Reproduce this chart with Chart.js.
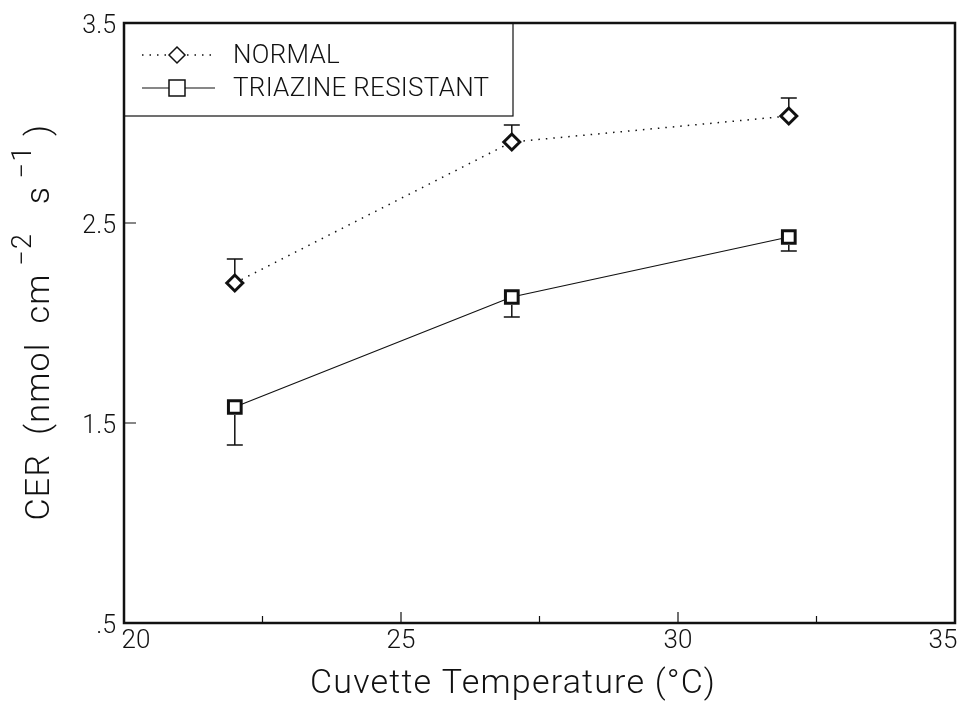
<!DOCTYPE html>
<html>
<head>
<meta charset="utf-8">
<script src="https://cdn.jsdelivr.net/npm/chart.js@4.4.0/dist/chart.umd.min.js"></script>
<style>
  html, body { margin: 0; padding: 0; background: #fff; }
  #wrap { width: 969px; height: 715px; }
</style>
</head>
<body>
<div id="wrap"><canvas id="grafico" width="969" height="715"></canvas></div>
<script>
// Dados
const temperaturas = [22, 27, 32];
const cerNormal = [2.20, 2.905, 3.035];
const erroNormal = [0.12, 0.085, 0.09];        // só barra de cima
const cerResistente = [1.58, 2.13, 2.43];
const erroResistente = [0.19, 0.10, 0.07];     // só barra de baixo
const ticksX = [20, 25, 30, 35];
const ticksXMenores = [22.5, 27.5, 32.5];
const ticksY = [0.5, 1.5, 2.5, 3.5];
const rotulosY = ['.5', '1.5', '2.5', '3.5'];
const nomesSeries = ['NORMAL', 'TRIAZINE RESISTANT'];

const FONTE = "'Roboto', 'Liberation Sans', sans-serif";
const PRETO = '#111';

// Moldura, ticks internos, barras de erro, legenda e títulos
const pluginDesenho = {
    id: 'desenho',
    afterDatasetsDraw(chart) {
        const ctx = chart.ctx;
        const area = chart.chartArea;
        const sx = chart.scales.x;
        const sy = chart.scales.y;
        ctx.save();

        // barras de erro
        ctx.strokeStyle = PRETO;
        ctx.lineWidth = 1.5;
        const barra = (x, y0, y1) => {
            const px = sx.getPixelForValue(x);
            const p0 = sy.getPixelForValue(y0);
            const p1 = sy.getPixelForValue(y1);
            ctx.beginPath();
            ctx.moveTo(px, p0); ctx.lineTo(px, p1);
            ctx.moveTo(px - 8, p1); ctx.lineTo(px + 8, p1);
            ctx.stroke();
        };
        temperaturas.forEach((t, i) => {
            barra(t, cerNormal[i] + 0.035, cerNormal[i] + erroNormal[i]);
            barra(t, cerResistente[i] - 0.04, cerResistente[i] - erroResistente[i]);
        });

        // ticks internos
        ctx.lineWidth = 1.2;
        ctx.beginPath();
        ticksX.slice(1, -1).forEach(v => {
            const px = sx.getPixelForValue(v);
            ctx.moveTo(px, area.bottom); ctx.lineTo(px, area.bottom - 11);
        });
        ticksXMenores.forEach(v => {
            const px = sx.getPixelForValue(v);
            ctx.moveTo(px, area.bottom); ctx.lineTo(px, area.bottom - 7);
        });
        ticksY.slice(1, -1).forEach(v => {
            const py = sy.getPixelForValue(v);
            ctx.moveTo(area.left, py); ctx.lineTo(area.left + 12, py);
        });
        ctx.stroke();

        // rótulos do eixo x (os das pontas ficam puxados para dentro)
        ctx.fillStyle = PRETO;
        ctx.font = '300 26px ' + FONTE;
        ctx.textAlign = 'center';
        ctx.textBaseline = 'middle';
        ticksX.forEach((v, i) => {
            let px = sx.getPixelForValue(v);
            if (i === 0) px += 12;
            if (i === ticksX.length - 1) px -= 12;
            ctx.fillText(String(v), px, area.bottom + 18);
        });

        // legenda
        const lx0 = area.left, ly0 = area.top, lx1 = 513, ly1 = 116;
        ctx.fillStyle = '#fff';
        ctx.fillRect(lx0, ly0, lx1 - lx0, ly1 - ly0);
        ctx.lineWidth = 1.2;
        ctx.strokeRect(lx0, ly0, lx1 - lx0, ly1 - ly0);
        const linhasLeg = [55, 88];
        chart.data.datasets.forEach((ds, i) => {
            const y = linhasLeg[i];
            ctx.save();
            ctx.lineWidth = ds.borderWidth;
            ctx.setLineDash(ds.borderDash || []);
            ctx.beginPath();
            ctx.moveTo(142, y); ctx.lineTo(215, y);
            ctx.stroke();
            ctx.restore();
            ctx.fillStyle = '#fff';
            ctx.lineWidth = 1.5;
            ctx.beginPath();
            if (i === 0) {
                ctx.moveTo(177, y - 8); ctx.lineTo(185, y); ctx.lineTo(177, y + 8); ctx.lineTo(169, y);
                ctx.closePath();
            } else {
                ctx.rect(169, y - 8, 16, 16);
            }
            ctx.fill(); ctx.stroke();
            ctx.fillStyle = PRETO;
            ctx.font = '300 26px ' + FONTE;
            ctx.textBaseline = 'middle';
            ctx.textAlign = 'left';
            ctx.letterSpacing = '0.3px';
            ctx.fillText(nomesSeries[i], 233, y + 1);
            ctx.letterSpacing = '0px';
        });

        // moldura
        ctx.lineWidth = 2.5;
        ctx.strokeStyle = PRETO;
        ctx.strokeRect(area.left, area.top, area.right - area.left, area.bottom - area.top);

        // título eixo x
        ctx.fillStyle = PRETO;
        ctx.font = '300 34px ' + FONTE;
        ctx.letterSpacing = '1.2px';
        ctx.textAlign = 'center';
        ctx.textBaseline = 'middle';
        ctx.fillText('Cuvette Temperature (°C)', 513, 684);

        // título eixo y com expoentes
        ctx.translate(40, 322);
        ctx.rotate(-Math.PI / 2);
        const partes = [
            ['CER  (nmol  cm', false], [' \u22122', true], ['   s', false], [' \u22121', true], [' )', false]
        ];
        const fonteNormal = '300 34px ' + FONTE;
        const fonteSup = '300 27px ' + FONTE;
        let total = 0;
        partes.forEach(([txt, sup]) => {
            ctx.font = sup ? fonteSup : fonteNormal;
            total += ctx.measureText(txt).width;
        });
        let cx = -total / 2;
        ctx.textAlign = 'left';
        partes.forEach(([txt, sup]) => {
            ctx.font = sup ? fonteSup : fonteNormal;
            ctx.fillText(txt, cx, sup ? -16 : 0);
            cx += ctx.measureText(txt).width;
        });
        ctx.restore();
    }
};

const ctx = document.getElementById('grafico').getContext('2d');
const grafico = new Chart(ctx, {
    type: 'line',
    data: {
        datasets: [
            {
                label: nomesSeries[0],
                data: temperaturas.map((t, i) => ({ x: t, y: cerNormal[i] })),
                borderColor: PRETO,
                borderWidth: 1.5,
                borderDash: [1.5, 6],
                pointStyle: 'rectRot',
                pointRadius: 8,
                pointBorderWidth: 3,
                pointBackgroundColor: '#fff',
                pointBorderColor: PRETO,
                tension: 0
            },
            {
                label: nomesSeries[1],
                data: temperaturas.map((t, i) => ({ x: t, y: cerResistente[i] })),
                borderColor: PRETO,
                borderWidth: 1.2,
                pointStyle: 'rect',
                pointRadius: 9,
                pointBorderWidth: 3,
                pointBackgroundColor: '#fff',
                pointBorderColor: PRETO,
                tension: 0
            }
        ]
    },
    options: {
        responsive: false,
        animation: false,
        layout: { padding: { left: 0, top: 23, right: 14, bottom: 0 } },
        plugins: { legend: { display: false }, tooltip: { enabled: false } },
        scales: {
            x: {
                type: 'linear',
                min: 20, max: 35,
                afterBuildTicks: s => { s.ticks = ticksX.map(v => ({ value: v })); },
                afterFit: s => { s.height = 92; },
                grid: { display: false },
                border: { display: false },
                ticks: { display: false }
            },
            y: {
                min: 0.5, max: 3.5,
                afterBuildTicks: s => { s.ticks = ticksY.map(v => ({ value: v })); },
                afterFit: s => { s.width = 124; },
                grid: { display: false },
                border: { display: false },
                ticks: {
                    padding: 0,
                    labelOffset: 4,
                    color: PRETO,
                    font: { family: FONTE, size: 25, weight: 300 },
                    callback: (v) => rotulosY[ticksY.indexOf(v)]
                }
            }
        }
    },
    plugins: [pluginDesenho]
});
</script>
</body>
</html>
